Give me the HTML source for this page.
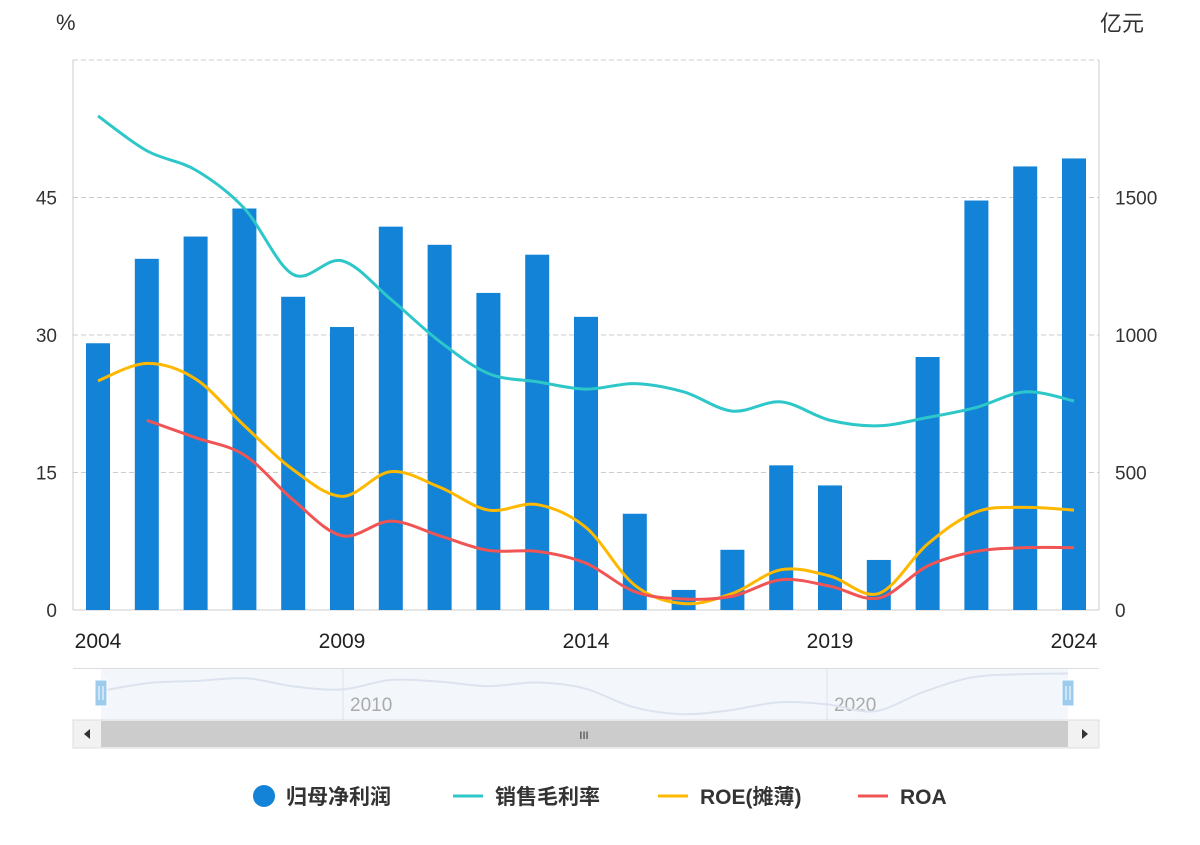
<!DOCTYPE html>
<html><head><meta charset="utf-8">
<style>
body{margin:0;background:#fff;width:1200px;height:840px;overflow:hidden;font-family:"Liberation Sans","Noto Sans CJK SC",sans-serif;}
svg text{font-family:"Liberation Sans","Noto Sans CJK SC",sans-serif;}
</style></head>
<body>
<svg id="chart" width="1200" height="840" xmlns="http://www.w3.org/2000/svg"></svg>
<script>
const years=[2004,2005,2006,2007,2008,2009,2010,2011,2012,2013,2014,2015,2016,2017,2018,2019,2020,2021,2022,2023,2024];
const netProfit=[970,1277,1358,1460,1139,1029,1394,1328,1153,1292,1066,350,73,219,526,453,182,920,1489,1613,1642];
const grossMargin=[53.9,50.1,48.0,43.8,36.6,38.1,33.9,29.3,25.8,24.9,24.1,24.7,23.8,21.7,22.7,20.7,20.1,21.0,22.1,23.8,22.8];
const roe=[25.0,26.9,25.2,20.1,15.3,12.4,15.1,13.4,10.9,11.5,9.0,2.7,0.7,1.8,4.4,3.7,1.8,7.2,10.7,11.2,10.9];
const roa=[null,20.7,18.8,16.9,12.0,8.1,9.7,8.1,6.5,6.4,5.1,2.0,1.2,1.5,3.3,2.6,1.3,4.8,6.4,6.8,6.8];
const leftTicks=[0,15,30,45];
const rightTicks=[0,500,1000,1500];
const xTickYears=[2004,2009,2014,2019,2024];

const svg=document.getElementById('chart');
const NS='http://www.w3.org/2000/svg';
const L=73,R=1099,T=60,B=610;
const x0=98,x1=1074;
function xs(i){return x0+(x1-x0)*i/(years.length-1);}
function yl(v){return B-(B-T)*v/60;}
function yr(v){return B-(B-T)*v/2000;}
function el(tag,attrs,parent){const e=document.createElementNS(NS,tag);for(const k in attrs)e.setAttribute(k,attrs[k]);(parent||svg).appendChild(e);return e;}
function txt(s,attrs){const t=el('text',attrs);t.textContent=s;return t;}

el('line',{x1:L,x2:R,y1:T,y2:T,stroke:'#ccc','stroke-dasharray':'5,3',});
leftTicks.forEach(v=>{if(v>0){const ln=el('line',{x1:L,x2:R,y1:yl(v),y2:yl(v),stroke:'#ccc','stroke-dasharray':'5,3'});

}
const t=txt(String(v),{x:57,y:yl(v)+7,'text-anchor':'end','font-size':19,fill:'#333'});

});
rightTicks.forEach(v=>{const t=txt(String(v),{x:1115,y:yr(v)+7,'font-size':19,fill:'#333'});

});
el('line',{x1:L,x2:L,y1:T,y2:B,stroke:'#ccc',});
el('line',{x1:R,x2:R,y1:T,y2:B,stroke:'#ccc',});
el('line',{x1:L,x2:R,y1:B,y2:B,stroke:'#ccc',});
txt('%',{x:56,y:30,'font-size':22,fill:'#333',});
txt('亿元',{x:1100,y:31,'font-size':22,fill:'#333',});

netProfit.forEach((v,i)=>{const b=el('rect',{x:xs(i)-12,y:yr(v),width:24,height:B-yr(v),fill:'#1283d6'});

});

xTickYears.forEach(yv=>{const i=years.indexOf(yv);const t=txt(String(yv),{x:xs(i),y:648,'text-anchor':'middle','font-size':21,fill:'#222'});

});

function smooth(pts){let d='M'+pts[0][0]+','+pts[0][1];for(let i=0;i<pts.length-1;i++){const p0=pts[i-1]||pts[i],p1=pts[i],p2=pts[i+1],p3=pts[i+2]||p2;const c1=[p1[0]+(p2[0]-p0[0])/6,p1[1]+(p2[1]-p0[1])/6],c2=[p2[0]-(p3[0]-p1[0])/6,p2[1]-(p3[1]-p1[1])/6];d+=' C'+c1+' '+c2+' '+p2;}return d;}
function line(arr,color,name,yf){const pts=[];arr.forEach((v,i)=>{if(v!==null)pts.push([xs(i),yf(v)]);});const p=el('path',{d:smooth(pts),fill:'none',stroke:color,'stroke-width':3});

}
line(grossMargin,'#2ec7c9','gross-margin-line',yl);
line(roe,'#ffb800','roe-line',yl);
line(roa,'#f05454','roa-line',yl);

el('rect',{x:L,y:668,width:R-L,height:52,fill:'#fff',stroke:'none',});
el('rect',{x:101,y:669,width:967,height:51,fill:'#f3f7fc',});
el('line',{x1:L,x2:R,y1:668.5,y2:668.5,stroke:'#ddd'});
[343,827].forEach(xv=>{el('line',{x1:xv,x2:xv,y1:669,y2:720,stroke:'#dde3ea'});});
txt('2010',{x:350,y:711,'font-size':19,fill:'#aaa'});
txt('2020',{x:834,y:711,'font-size':19,fill:'#aaa'});
{const pts=netProfit.map((v,i)=>[101+967*i/(years.length-1),716-44*v/1700]);el('path',{d:smooth(pts),fill:'none',stroke:'#dde3ee','stroke-width':2,});}
[[101,'left'],[1068,'right']].forEach(([hx,n])=>{const h=el('rect',{x:hx-6,y:680,width:12,height:26,fill:'#9ccbee',stroke:'#fff'});


el('line',{x1:hx-2,x2:hx-2,y1:686,y2:700,stroke:'#fff'});el('line',{x1:hx+2,x2:hx+2,y1:686,y2:700,stroke:'#fff'});});
el('rect',{x:L,y:720,width:R-L,height:28,fill:'#f2f2f2',stroke:'#ddd',});
el('rect',{x:101,y:721,width:967,height:26,fill:'#ccc',});
txt('III',{x:584,y:739,'text-anchor':'middle','font-size':11,fill:'#333'});
el('path',{d:'M84,734 L90,729 L90,739 Z',fill:'#333',});
el('path',{d:'M1088,734 L1082,729 L1082,739 Z',fill:'#333',});

el('circle',{cx:264,cy:796,r:11,fill:'#1283d6',});
txt('归母净利润',{x:286,y:804,'font-size':21,'font-weight':'bold',fill:'#333',});
el('line',{x1:453,x2:483,y1:796,y2:796,stroke:'#2ec7c9','stroke-width':3});
txt('销售毛利率',{x:495,y:804,'font-size':21,'font-weight':'bold',fill:'#333',});
el('line',{x1:658,x2:688,y1:796,y2:796,stroke:'#ffb800','stroke-width':3});
txt('ROE(摊薄)',{x:700,y:804,'font-size':21,'font-weight':'bold',fill:'#333',});
el('line',{x1:858,x2:888,y1:796,y2:796,stroke:'#f05454','stroke-width':3});
txt('ROA',{x:900,y:804,'font-size':21,'font-weight':'bold',fill:'#333',});
</script>
</body></html>
